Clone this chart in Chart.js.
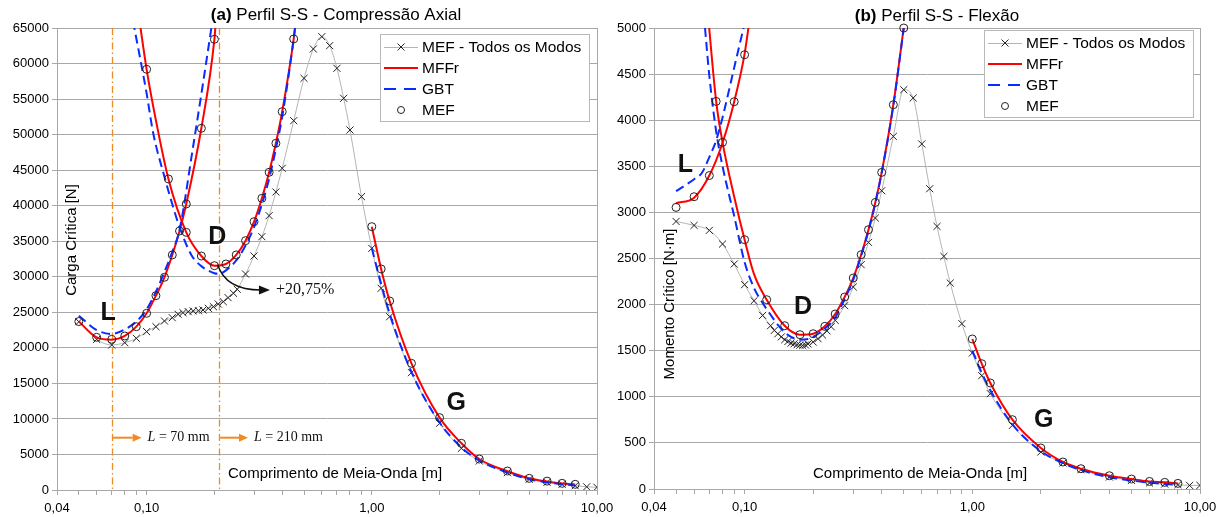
<!DOCTYPE html>
<html>
<head>
<meta charset="utf-8">
<script src="https://cdn.jsdelivr.net/npm/chart.js@4.4.0/dist/chart.umd.min.js"></script>
<style>
  html, body { margin: 0; padding: 0; background: #fff; }
  #wrap { position: relative; width: 1227px; height: 517px; overflow: hidden; }
  #chartA { position: absolute; left: 0; top: 0; }
  #chartB { position: absolute; left: 600px; top: 0; }
</style>
</head>
<body>
<div id="wrap">
  <canvas id="chartA" width="620" height="517"></canvas>
  <canvas id="chartB" width="627" height="517"></canvas>
</div>
<script>
// ---------- eixo x (comprimento de meia-onda, log) ----------
const xTicks = [0.04, 0.05, 0.06, 0.07, 0.08, 0.09, 0.1, 0.2, 0.3, 0.4, 0.5, 0.6, 0.7, 0.8, 0.9, 1, 2, 3, 4, 5, 6, 7, 8, 9, 10];
const xLabelVals = [0.04, 0.1, 1, 10];
const xLabelText = ['0,04', '0,10', '1,00', '10,00'];

// ---------- (a) Compressão Axial ----------
const aTodosX = [0.05, 0.06, 0.07, 0.08, 0.09, 0.10, 0.11, 0.12, 0.13, 0.138, 0.145, 0.153, 0.161, 0.17, 0.178, 0.188, 0.198, 0.208, 0.219, 0.23, 0.243, 0.2525, 0.275, 0.30, 0.325, 0.35, 0.375, 0.40, 0.45, 0.50, 0.55, 0.60, 0.65, 0.70, 0.75, 0.80, 0.90, 1.0, 1.1, 1.2, 1.5, 2, 2.5, 3, 4, 5, 6, 7, 8, 9, 10];
const aTodosY = [23680, 21200, 20400, 20730, 21340, 22280, 22980, 23780, 24240, 24720, 24950, 25090, 25190, 25230, 25330, 25560, 25790, 26170, 26500, 27060, 27680, 28240, 30390, 32920, 35640, 38600, 41930, 45260, 51960, 57920, 62050, 63780, 62520, 59330, 55110, 50650, 41270, 34000, 28380, 24380, 16510, 9380, 5860, 4080, 2440, 1500, 1080, 800, 605, 450, 380];

const aMffrLX = [0.05, 0.06, 0.07, 0.08, 0.09, 0.10, 0.11, 0.12, 0.13, 0.14, 0.15, 0.175, 0.2, 0.203];
const aMffrLY = [23700, 21480, 21150, 21670, 22980, 24860, 27340, 29930, 33070, 36440, 40240, 50890, 63410, 66000];
const aMffrDX = [0.093, 0.1, 0.11, 0.125, 0.15, 0.175, 0.2, 0.225, 0.25, 0.275, 0.3, 0.325, 0.35, 0.375, 0.4, 0.45, 0.46];
const aMffrDY = [66000, 59190, 52000, 43760, 36250, 32920, 31560, 31800, 33070, 35080, 37750, 41040, 44700, 48780, 53230, 63460, 66000];
const aMffrGX = [1.0, 1.1, 1.2, 1.5, 2, 2.5, 3, 4, 5, 6, 7, 8];
const aMffrGY = [37050, 31100, 26590, 17820, 10180, 6570, 4360, 2640, 1650, 1200, 900, 760];

const aGbtLX = [0.05, 0.06, 0.07, 0.08, 0.09, 0.10, 0.11, 0.12, 0.13, 0.14, 0.16, 0.178, 0.196];
const aGbtLY = [24520, 22500, 21950, 22600, 23700, 25420, 27900, 30700, 33500, 36580, 47840, 57220, 66000];
const aGbtDX = [0.087, 0.1, 0.107, 0.12, 0.131, 0.14, 0.158, 0.175, 0.2, 0.21, 0.225, 0.25, 0.275, 0.3, 0.325, 0.35, 0.375, 0.4, 0.45, 0.46];
const aGbtDY = [66000, 55800, 50190, 44080, 39860, 37000, 33070, 31500, 30500, 30400, 30900, 32300, 34400, 37000, 40200, 43800, 48000, 52500, 63500, 66000];
const aGbtGX = [1.0, 1.1, 1.2, 1.5, 2, 2.5, 3, 4, 5, 6, 7, 8];
const aGbtGY = [34000, 29000, 24800, 16600, 9500, 6000, 4150, 2450, 1520, 1080, 800, 640];

const aMefX = [0.05, 0.06, 0.07, 0.08, 0.09, 0.10, 0.11, 0.12, 0.13, 0.14, 0.15, 0.175, 0.2,
               0.1, 0.125, 0.15, 0.175, 0.2, 0.225, 0.25, 0.275, 0.3, 0.325, 0.35, 0.375, 0.4, 0.45,
               1.0, 1.1, 1.2, 1.5, 2, 2.5, 3, 4, 5, 6, 7, 8];
const aMefY = [23700, 21480, 21200, 21670, 22980, 24860, 27340, 29930, 33070, 36440, 40240, 50890, 63410,
               59190, 43760, 36250, 32920, 31560, 31800, 33070, 35080, 37750, 41040, 44700, 48780, 53230, 63460,
               37050, 31100, 26590, 17820, 10180, 6570, 4360, 2670, 1640, 1250, 940, 800];

const aMarcas = [0.07, 0.21];   // L = 70 mm, L = 210 mm

// ---------- (b) Flexão ----------
const bTodosX = [0.05, 0.06, 0.07, 0.08, 0.09, 0.10, 0.11, 0.12, 0.13, 0.135, 0.14, 0.145, 0.15, 0.155, 0.16, 0.165, 0.17, 0.175, 0.18, 0.185, 0.19, 0.2, 0.21, 0.22, 0.23, 0.24, 0.25, 0.275, 0.3, 0.325, 0.35, 0.375, 0.4, 0.45, 0.5, 0.55, 0.6, 0.65, 0.7, 0.75, 0.8, 0.9, 1.0, 1.1, 1.2, 1.5, 2, 2.5, 3, 4, 5, 6, 7, 8, 9, 10];
const bTodosY = [2902, 2859, 2805, 2657, 2440, 2216, 2042, 1883, 1771, 1720, 1684, 1650, 1619, 1600, 1583, 1575, 1565, 1560, 1557, 1562, 1573, 1594, 1630, 1670, 1715, 1760, 1829, 1988, 2191, 2433, 2675, 2939, 3235, 3824, 4331, 4241, 3742, 3257, 2848, 2523, 2234, 1793, 1475, 1229, 1034, 690, 401, 282, 209, 130, 93, 65, 54, 47, 39, 39];

const bMffrLX = [0.05, 0.06, 0.07, 0.08, 0.09, 0.10, 0.105];
const bMffrLY = [3100, 3160, 3400, 3755, 4200, 4720, 5080];
const bMffrDX = [0.069, 0.075, 0.08, 0.09, 0.1, 0.11, 0.125, 0.15, 0.175, 0.2, 0.225, 0.25, 0.275, 0.3, 0.325, 0.35, 0.375, 0.4, 0.45, 0.5];
const bMffrDY = [5150, 4204, 3760, 3170, 2704, 2330, 2053, 1771, 1674, 1684, 1764, 1898, 2082, 2288, 2541, 2812, 3108, 3434, 4168, 5006];
const bMffrGX = [1.0, 1.1, 1.2, 1.5, 2, 2.5, 3, 4, 5, 6, 7, 8];
const bMffrGY = [1627, 1359, 1150, 752, 445, 293, 220, 144, 108, 82, 72, 61];

const bGbtLX = [0.05, 0.06, 0.065, 0.07, 0.075, 0.08, 0.09, 0.1];
const bGbtLY = [3230, 3360, 3430, 3600, 3780, 4030, 4570, 5050];
const bGbtDX = [0.067, 0.07, 0.075, 0.08, 0.09, 0.1, 0.11, 0.12, 0.13, 0.14, 0.15, 0.16, 0.175, 0.19, 0.2, 0.225, 0.25, 0.275, 0.3, 0.325, 0.35, 0.375, 0.4, 0.45, 0.5];
const bGbtDY = [5000, 4480, 3880, 3500, 2960, 2460, 2180, 2017, 1890, 1780, 1700, 1649, 1620, 1627, 1650, 1740, 1860, 2060, 2270, 2530, 2800, 3100, 3430, 4160, 5000];
const bGbtGX = [1.0, 1.1, 1.2, 1.5, 2, 2.5, 3, 4, 5, 6, 7, 8];
const bGbtGY = [1500, 1260, 1070, 700, 410, 280, 205, 128, 92, 68, 55, 45];

const bMefX = [0.05, 0.06, 0.07, 0.08, 0.09, 0.1,
               0.075, 0.1, 0.125, 0.15, 0.175, 0.2, 0.225, 0.25, 0.275, 0.3, 0.325, 0.35, 0.375, 0.4, 0.45, 0.5,
               1.0, 1.1, 1.2, 1.5, 2, 2.5, 3, 4, 5, 6, 7, 8];
const bMefY = [3054, 3170, 3400, 3760, 4200, 4710,
               4204, 2704, 2053, 1771, 1674, 1684, 1764, 1898, 2082, 2288, 2541, 2812, 3108, 3434, 4168, 5000,
               1627, 1359, 1150, 752, 445, 293, 220, 144, 108, 82, 72, 61];

// ---------- estilos ----------
const FONT = '"Liberation Sans", Arial, sans-serif';
const SERIF = '"Liberation Serif", "Times New Roman", serif';
const GRID = '#a8a8a8';
const RED = '#ff0000';
const BLUE = '#0a2bff';
const GRAY = '#b4b4b4';
const ORANGE = '#f08a24';

Chart.defaults.font.family = FONT;
Chart.defaults.color = '#000';

const serie = (xs, ys) => xs.map((x, i) => ({ x: x, y: ys[i] }));

const linha = (label, xs, ys, color, dash) => ({
  label: label,
  data: serie(xs, ys),
  borderColor: color,
  borderWidth: 2,
  borderDash: dash || [],
  pointRadius: 0,
  cubicInterpolationMode: 'monotone',
  fill: false
});

const circulos = (xs, ys) => ({
  label: 'MEF',
  data: serie(xs, ys),
  showLine: false,
  pointStyle: 'circle',
  pointRadius: 4,
  pointBorderWidth: 1,
  pointBorderColor: '#222',
  pointBackgroundColor: 'rgba(0,0,0,0)',
  clip: false
});

const todos = (xs, ys) => ({
  label: 'MEF - Todos os Modos',
  data: serie(xs, ys),
  borderColor: GRAY,
  borderWidth: 1,
  pointStyle: 'crossRot',
  pointRadius: 5,
  pointBorderWidth: 1,
  pointBorderColor: '#222',
  cubicInterpolationMode: 'monotone',
  fill: false
});

// ---------- desenho auxiliar ----------
function seta(ctx, x1, y1, x2, y2, color, w, head) {
  ctx.strokeStyle = color; ctx.fillStyle = color; ctx.lineWidth = w;
  ctx.beginPath(); ctx.moveTo(x1, y1); ctx.lineTo(x2 - head, y2); ctx.stroke();
  ctx.beginPath(); ctx.moveTo(x2, y2); ctx.lineTo(x2 - head, y2 - head * 0.45); ctx.lineTo(x2 - head, y2 + head * 0.45); ctx.closePath(); ctx.fill();
}

function letra(chart, txt, xv, yv) {
  const { ctx, scales: { x, y } } = chart;
  ctx.font = 'bold 25px ' + FONT;
  ctx.fillStyle = '#111';
  ctx.textAlign = 'center'; ctx.textBaseline = 'middle';
  ctx.fillText(txt, x.getPixelForValue(xv), y.getPixelForValue(yv));
}

function titulo(ctx, cx, cy, bold, rest) {
  ctx.textBaseline = 'middle'; ctx.textAlign = 'left'; ctx.fillStyle = '#000';
  ctx.font = 'bold 17px ' + FONT;
  const w1 = ctx.measureText(bold).width;
  ctx.font = '17px ' + FONT;
  const w2 = ctx.measureText(rest).width;
  const x0 = cx - (w1 + w2) / 2;
  ctx.font = 'bold 17px ' + FONT; ctx.fillText(bold, x0, cy);
  ctx.font = '17px ' + FONT; ctx.fillText(rest, x0 + w1, cy);
}

function legenda(ctx, bx, by, bw, bh) {
  ctx.fillStyle = '#fff'; ctx.fillRect(bx, by, bw, bh);
  ctx.strokeStyle = '#b8b8b8'; ctx.lineWidth = 1; ctx.setLineDash([]);
  ctx.strokeRect(bx + 0.5, by + 0.5, bw, bh);
  const s0 = bx + 4, s1 = bx + 38, sc = (s0 + s1) / 2;
  const rows = [by + 13, by + 34, by + 55, by + 76];
  // MEF - Todos os Modos
  ctx.strokeStyle = GRAY; ctx.lineWidth = 1;
  ctx.beginPath(); ctx.moveTo(s0, rows[0] + 0.5); ctx.lineTo(s1, rows[0] + 0.5); ctx.stroke();
  ctx.strokeStyle = '#222';
  ctx.beginPath();
  ctx.moveTo(sc - 3.5, rows[0] - 3.5); ctx.lineTo(sc + 3.5, rows[0] + 3.5);
  ctx.moveTo(sc - 3.5, rows[0] + 3.5); ctx.lineTo(sc + 3.5, rows[0] - 3.5);
  ctx.stroke();
  // MFFr
  ctx.strokeStyle = RED; ctx.lineWidth = 2;
  ctx.beginPath(); ctx.moveTo(s0, rows[1]); ctx.lineTo(s1, rows[1]); ctx.stroke();
  // GBT
  ctx.strokeStyle = BLUE; ctx.setLineDash([12, 8]);
  ctx.beginPath(); ctx.moveTo(s0, rows[2]); ctx.lineTo(s1, rows[2]); ctx.stroke();
  ctx.setLineDash([]);
  // MEF
  ctx.strokeStyle = '#222'; ctx.lineWidth = 1;
  ctx.beginPath(); ctx.arc(sc, rows[3], 3.5, 0, Math.PI * 2); ctx.stroke();

  ctx.fillStyle = '#000'; ctx.font = '15.5px ' + FONT;
  ctx.textAlign = 'left'; ctx.textBaseline = 'middle';
  ['MEF - Todos os Modos', 'MFFr', 'GBT', 'MEF'].forEach((t, i) => ctx.fillText(t, bx + 42, rows[i] + 1));
}

function moldura(chart) {
  const { ctx, chartArea: a } = chart;
  ctx.save();
  ctx.strokeStyle = GRID; ctx.lineWidth = 1;
  ctx.beginPath(); ctx.moveTo(a.right + 0.5, a.top); ctx.lineTo(a.right + 0.5, a.bottom); ctx.stroke();
  ctx.restore();
}

function eixoTitulos(chart, yTxt, yCx, yCy, xTxt, xLeft) {
  const { ctx } = chart;
  ctx.save();
  ctx.fillStyle = '#000'; ctx.font = '15px ' + FONT;
  ctx.textBaseline = 'middle';
  ctx.textAlign = 'left';
  ctx.fillText(xTxt, xLeft, 474);
  ctx.translate(yCx, yCy); ctx.rotate(-Math.PI / 2);
  ctx.textAlign = 'center';
  ctx.fillText(yTxt, 0, 0);
  ctx.restore();
}

// ---------- anotações ----------
const extrasA = {
  id: 'extrasA',
  beforeDatasetsDraw(chart) {
    const { ctx, chartArea: a, scales: { x } } = chart;
    moldura(chart);
    ctx.save();
    ctx.strokeStyle = ORANGE; ctx.lineWidth = 1.3; ctx.setLineDash([7, 3, 1.5, 3]);
    aMarcas.forEach(v => {
      const p = Math.round(x.getPixelForValue(v)) + 0.5;
      ctx.beginPath(); ctx.moveTo(p, a.top); ctx.lineTo(p, a.bottom); ctx.stroke();
    });
    ctx.restore();
  },
  afterDatasetsDraw(chart) {
    const { ctx, scales: { x, y } } = chart;
    ctx.save();
    letra(chart, 'L', 0.0675, 24860);
    letra(chart, 'D', 0.206, 35560);
    letra(chart, 'G', 2.37, 12200);

    // seta curva +20,75%
    const sx = x.getPixelForValue(0.207), sy = y.getPixelForValue(31660);
    const cx = x.getPixelForValue(0.225), cy = y.getPixelForValue(28140);
    const ex = x.getPixelForValue(0.353), ey = y.getPixelForValue(28140);
    ctx.strokeStyle = '#111'; ctx.lineWidth = 1.5;
    ctx.beginPath(); ctx.moveTo(sx, sy); ctx.quadraticCurveTo(cx, cy, ex - 9, ey); ctx.stroke();
    ctx.fillStyle = '#111';
    ctx.beginPath(); ctx.moveTo(ex, ey); ctx.lineTo(ex - 11, ey - 4.5); ctx.lineTo(ex - 11, ey + 4.5); ctx.closePath(); ctx.fill();
    ctx.font = '16px ' + SERIF; ctx.textAlign = 'left'; ctx.textBaseline = 'middle';
    ctx.fillText('+20,75%', ex + 6, ey);

    // setas laranja com L
    const ay = y.getPixelForValue(7360);
    [[0.07, 0.095, '70 mm'], [0.21, 0.282, '210 mm']].forEach(([v0, v1, t]) => {
      const p0 = x.getPixelForValue(v0) + 1, p1 = x.getPixelForValue(v1);
      seta(ctx, p0, ay, p1, ay, ORANGE, 2, 9);
      ctx.fillStyle = '#111'; ctx.textAlign = 'left'; ctx.textBaseline = 'middle';
      ctx.font = 'italic 14px ' + SERIF;
      ctx.fillText('L', p1 + 6, ay);
      const wL = ctx.measureText('L').width;
      ctx.font = '14px ' + SERIF;
      ctx.fillText(' = ' + t, p1 + 6 + wL, ay);
    });
    ctx.restore();
  },
  afterDraw(chart) {
    const { ctx, chartArea: a } = chart;
    ctx.save();
    titulo(ctx, 336, 15, '(a)', ' Perfil S-S - Compressão Axial');
    eixoTitulos(chart, 'Carga Crítica [N]', a.left + 15, 240, 'Comprimento de Meia-Onda [m]', a.left + 171);
    legenda(ctx, 380, 34, 209, 87);
    ctx.restore();
  }
};

const extrasB = {
  id: 'extrasB',
  beforeDatasetsDraw(chart) { moldura(chart); },
  afterDatasetsDraw(chart) {
    chart.ctx.save();
    letra(chart, 'L', 0.055, 3517);
    letra(chart, 'D', 0.1807, 1974);
    letra(chart, 'G', 2.06, 752);
    chart.ctx.restore();
  },
  afterDraw(chart) {
    const { ctx, chartArea: a } = chart;
    ctx.save();
    titulo(ctx, 337, 16, '(b)', ' Perfil S-S - Flexão');
    eixoTitulos(chart, 'Momento Crítico [N·m]', a.left + 16, 304, 'Comprimento de Meia-Onda [m]', a.left + 159);
    legenda(ctx, 384, 30, 209, 87);
    ctx.restore();
  }
};

// ---------- gráfico ----------
function criarGrafico(id, datasets, yMax, yStep, yWidth, xHeight, padRight, extras) {
  return new Chart(document.getElementById(id).getContext('2d'), {
    type: 'line',
    data: { datasets: datasets },
    options: {
      responsive: false,
      animation: false,
      devicePixelRatio: 1,
      layout: { padding: { top: 28, right: padRight, left: 0, bottom: 0 } },
      plugins: { legend: { display: false }, tooltip: { enabled: false } },
      scales: {
        x: {
          type: 'logarithmic',
          min: 0.04,
          max: 10,
          afterBuildTicks: s => { s.ticks = xTicks.map(v => ({ value: v })); },
          afterFit: s => { s.height = xHeight; s.paddingLeft = 0; s.paddingRight = 0; },
          grid: { drawOnChartArea: false, drawTicks: true, tickLength: 5, color: GRID },
          border: { color: GRID },
          ticks: {
            autoSkip: false, maxRotation: 0, padding: 6, font: { size: 13 },
            callback: v => { const i = xLabelVals.indexOf(v); return i >= 0 ? xLabelText[i] : ''; }
          }
        },
        y: {
          min: 0,
          max: yMax,
          afterFit: s => { s.width = yWidth; },
          grid: { color: GRID, tickLength: 5 },
          border: { color: GRID },
          ticks: { stepSize: yStep, padding: 3, font: { size: 13 }, callback: v => String(v) }
        }
      }
    },
    plugins: [extras]
  });
}

criarGrafico('chartA', [
  circulos(aMefX, aMefY),
  linha('GBT', aGbtLX, aGbtLY, BLUE, [9, 5]),
  linha('GBT', aGbtDX, aGbtDY, BLUE, [9, 5]),
  linha('GBT', aGbtGX, aGbtGY, BLUE, [9, 5]),
  linha('MFFr', aMffrLX, aMffrLY, RED),
  linha('MFFr', aMffrDX, aMffrDY, RED),
  linha('MFFr', aMffrGX, aMffrGY, RED),
  todos(aTodosX, aTodosY)
], 65000, 5000, 57, 27, 23, extrasA);

criarGrafico('chartB', [
  circulos(bMefX, bMefY),
  linha('GBT', bGbtLX, bGbtLY, BLUE, [9, 5]),
  linha('GBT', bGbtDX, bGbtDY, BLUE, [9, 5]),
  linha('GBT', bGbtGX, bGbtGY, BLUE, [9, 5]),
  linha('MFFr', bMffrLX, bMffrLY, RED),
  linha('MFFr', bMffrDX, bMffrDY, RED),
  linha('MFFr', bMffrGX, bMffrGY, RED),
  todos(bTodosX, bTodosY)
], 5000, 500, 54, 28, 27, extrasB);
</script>
</body>
</html>
